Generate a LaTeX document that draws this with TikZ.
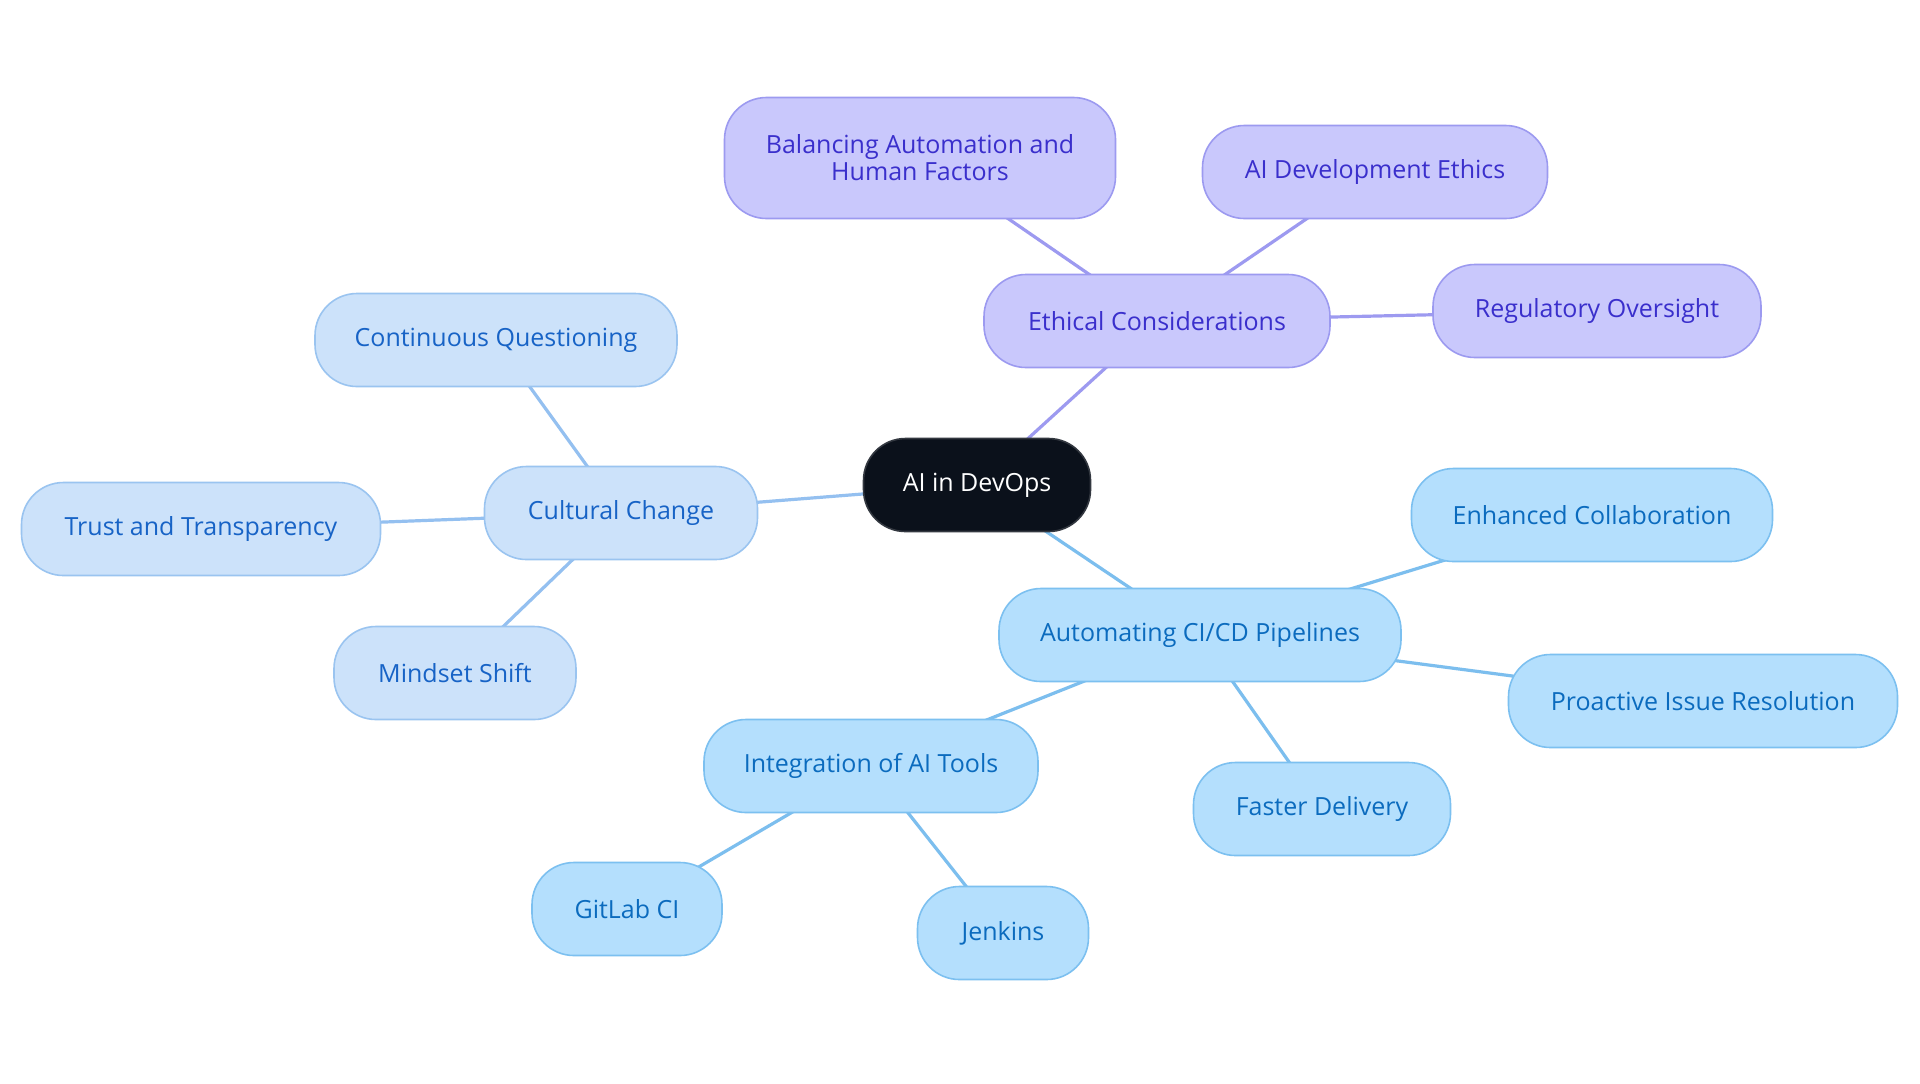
\documentclass[tikz,border=0pt]{standalone}
\usepackage{fontspec}
\setmainfont{Open Sans}
\usetikzlibrary{backgrounds}
\begin{document}
\begin{tikzpicture}[x=0.5pt,y=-0.5pt,
  base/.style={rounded corners=21pt, line width=0.8pt, align=center, inner sep=0pt,
    font=\fontsize{12.5}{13.5}\selectfont, minimum height=46.5pt},
  purp/.style={base, fill=purpfill, draw=purpline, text=purptext},
  lblue/.style={base, fill=lbfill, draw=lbline, text=lbtext},
  cyan/.style={base, fill=cyfill, draw=cyline, text=cytext},
  root/.style={base, fill=rootfill, draw=rootline, text=white},
  pe/.style={draw=purpedge, line width=1.6pt},
  le/.style={draw=lbedge, line width=1.6pt},
  ce/.style={draw=cyedge, line width=1.6pt}]
\definecolor{purpfill}{HTML}{C9C8FC}
\definecolor{purpline}{HTML}{9C9AF0}
\definecolor{purptext}{HTML}{3A2FCC}
\definecolor{purpedge}{HTML}{9D9AF0}
\definecolor{lbfill}{HTML}{CCE2FA}
\definecolor{lbline}{HTML}{9AC4F0}
\definecolor{lbtext}{HTML}{1763C6}
\definecolor{lbedge}{HTML}{94C0F0}
\definecolor{cyfill}{HTML}{B4DFFD}
\definecolor{cyline}{HTML}{7CC0F0}
\definecolor{cytext}{HTML}{0B6BBE}
\definecolor{cyedge}{HTML}{7CBEEE}
\definecolor{rootfill}{HTML}{0B111B}
\definecolor{rootline}{HTML}{333840}
\useasboundingbox (0,0) rectangle (1920,1083);

\node[root, minimum width=113.5pt] (root) at (977,485) {AI in DevOps};
\node[purp, minimum width=173pt] (eth) at (1157,321) {Ethical Considerations};
\node[purp, minimum width=195.5pt, minimum height=60.5pt] (bal) at (920,158) {Balancing Automation and\\Human Factors};
\node[purp, minimum width=172.5pt] (aidev) at (1375,172) {AI Development Ethics};
\node[purp, minimum width=164pt] (reg) at (1597,311) {Regulatory Oversight};

\node[lblue, minimum width=136.5pt] (cult) at (621,513) {Cultural Change};
\node[lblue, minimum width=181pt] (cont) at (496,340) {Continuous Questioning};
\node[lblue, minimum width=179.5pt] (trust) at (201,529) {Trust and Transparency};
\node[lblue, minimum width=121pt] (mind) at (455,673) {Mindset Shift};

\node[cyan, minimum width=201pt] (auto) at (1200,635) {Automating CI/CD Pipelines};
\node[cyan, minimum width=180.5pt] (enh) at (1592,515) {Enhanced Collaboration};
\node[cyan, minimum width=194.5pt] (pro) at (1703,701) {Proactive Issue Resolution};
\node[cyan, minimum width=128.5pt] (fast) at (1322,809) {Faster Delivery};
\node[cyan, minimum width=167pt] (integ) at (871,766) {Integration of AI Tools};
\node[cyan, minimum width=95pt] (git) at (627,909) {GitLab CI};
\node[cyan, minimum width=85.5pt] (jen) at (1003,933) {Jenkins};

\begin{scope}[on background layer]
\fill[white] (0,0) rectangle (1920,1083);
\draw[pe] (root.center) -- (eth.center);
\draw[pe] (eth.center) -- (bal.center);
\draw[pe] (eth.center) -- (aidev.center);
\draw[pe] (eth.center) -- (reg.center);
\draw[le] (root.center) -- (cult.center);
\draw[le] (cult.center) -- (cont.center);
\draw[le] (cult.center) -- (trust.center);
\draw[le] (cult.center) -- (mind.center);
\draw[ce] (root.center) -- (auto.center);
\draw[ce] (auto.center) -- (enh.center);
\draw[ce] (auto.center) -- (pro.center);
\draw[ce] (auto.center) -- (fast.center);
\draw[ce] (auto.center) -- (integ.center);
\draw[ce] (integ.center) -- (git.center);
\draw[ce] (integ.center) -- (jen.center);
\end{scope}
\end{tikzpicture}
\end{document}
